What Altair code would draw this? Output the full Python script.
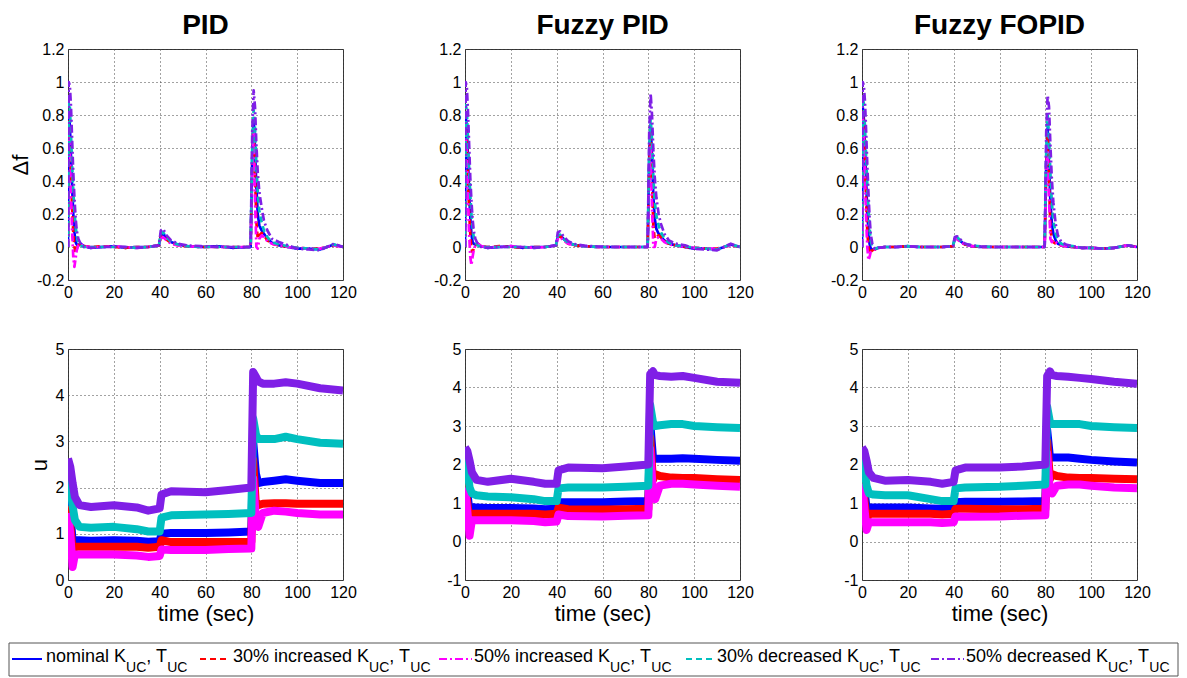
import altair as alt
import pandas as pd

FONT = "Liberation Sans"

CONTROLLERS = ["PID", "Fuzzy PID", "Fuzzy FOPID"]
SERIES = ["nominal", "30% increased", "50% increased", "30% decreased", "50% decreased"]
COLORS = ["#0000FF", "#FF0000", "#FF00FF", "#00BFBF", "#7F1FE6"]
DASHES = [[1, 0], [6, 4], [8, 3, 2, 3], [6, 4], [8, 3, 2, 3]]

X_TICKS = [0, 20, 40, 60, 80, 100, 120]
DF_TICKS = [-0.2, 0, 0.2, 0.4, 0.6, 0.8, 1.0, 1.2]
U_TICKS_PID = [0, 1, 2, 3, 4, 5]
U_TICKS_FUZZY = [-1, 0, 1, 2, 3, 4, 5]

# ---- delta f : time grid (start spike | quiet | bump at 40 | spike at 80 | tail)
T_DF = [0, 0.3, 0.8, 1.3, 1.8, 2.3, 2.8, 3.3, 3.8, 4.5, 5.5, 7,
        10, 15, 20, 25, 30, 35,
        39.7, 40.5, 41.5, 43, 45, 48, 52, 58, 65, 72,
        79.7, 80.4, 81, 81.6, 82.2, 82.8, 83.5, 84.5, 85.5, 87, 89, 92,
        96, 100, 105, 110, 116, 120]

DF_PID = {
    "nominal": [0, 0.80, 0.74, 0.55, 0.36, 0.20, 0.09, 0.03, 0.015, 0.01, 0.02, 0.005,
                -0.005, 0.0, 0.005, -0.005, 0.0, 0.0,
                0.01, 0.07, 0.08, 0.055, 0.03, 0.015, 0.005, 0.0, 0.005, -0.005,
                0.0, 0.55, 0.78, 0.6, 0.36, 0.2, 0.13, 0.1, 0.08, 0.05, 0.025, 0.01,
                0.0, -0.01, -0.01, -0.015, 0.015, 0.0],
    "30% increased": [0, 0.76, 0.66, 0.44, 0.24, 0.09, 0.0, -0.03, -0.01, 0.01, 0.02, 0.005,
                      0.0, 0.005, 0.0, -0.005, 0.0, 0.0,
                      0.01, 0.06, 0.07, 0.045, 0.025, 0.01, 0.005, 0.0, 0.0, 0.0,
                      0.0, 0.5, 0.72, 0.45, 0.15, 0.05, 0.07, 0.085, 0.07, 0.04, 0.02, 0.01,
                      0.0, -0.005, -0.01, -0.01, 0.01, 0.0],
    "50% increased": [0, 0.72, 0.58, 0.33, 0.1, -0.06, -0.12, -0.07, -0.02, 0.01, 0.02, 0.005,
                      0.0, 0.0, 0.005, 0.0, -0.005, 0.0,
                      0.01, 0.05, 0.06, 0.04, 0.02, 0.01, 0.005, 0.0, 0.0, 0.0,
                      0.0, 0.45, 0.7, 0.3, 0.0, -0.01, 0.05, 0.07, 0.06, 0.035, 0.02, 0.01,
                      0.0, -0.005, -0.01, -0.01, 0.01, 0.0],
    "30% decreased": [0, 0.88, 0.85, 0.68, 0.5, 0.34, 0.22, 0.13, 0.07, 0.03, 0.01, 0.0,
                      0.0, 0.0, 0.0, 0.0, -0.005, 0.0,
                      0.01, 0.08, 0.09, 0.06, 0.03, 0.015, 0.005, 0.0, 0.0, 0.0,
                      0.0, 0.6, 0.83, 0.72, 0.5, 0.33, 0.22, 0.15, 0.1, 0.06, 0.03, 0.015,
                      0.005, -0.005, -0.01, -0.015, 0.015, 0.0],
    "50% decreased": [0, 1.0, 0.98, 0.85, 0.65, 0.45, 0.3, 0.18, 0.1, 0.05, 0.02, 0.0,
                      -0.005, 0.0, 0.0, 0.0, -0.005, 0.0,
                      0.01, 0.1, 0.11, 0.07, 0.04, 0.02, 0.01, 0.005, 0.0, 0.0,
                      0.0, 0.7, 0.95, 0.85, 0.62, 0.45, 0.33, 0.24, 0.16, 0.1, 0.05, 0.03,
                      0.01, -0.01, -0.015, -0.02, 0.02, 0.0],
}

DF_FUZZY_PID = {
    "nominal": [0, 0.8, 0.72, 0.52, 0.33, 0.18, 0.08, 0.03, 0.02, 0.015, 0.02, 0.005,
                -0.005, 0.0, 0.005, -0.005, 0.0, 0.0,
                0.01, 0.065, 0.07, 0.05, 0.025, 0.012, 0.005, 0.0, 0.0, 0.0,
                0.0, 0.55, 0.74, 0.55, 0.3, 0.17, 0.11, 0.08, 0.06, 0.04, 0.02, 0.01,
                0.0, -0.01, -0.01, -0.015, 0.015, 0.0],
    "30% increased": [0, 0.75, 0.64, 0.42, 0.22, 0.08, -0.01, -0.03, -0.01, 0.01, 0.02, 0.005,
                      0.0, 0.005, 0.0, -0.005, 0.0, 0.0,
                      0.01, 0.06, 0.065, 0.045, 0.02, 0.01, 0.005, 0.0, 0.0, 0.0,
                      0.0, 0.5, 0.7, 0.4, 0.12, 0.05, 0.06, 0.07, 0.06, 0.035, 0.02, 0.01,
                      0.0, -0.005, -0.01, -0.01, 0.01, 0.0],
    "50% increased": [0, 0.7, 0.55, 0.3, 0.08, -0.06, -0.11, -0.06, -0.02, 0.01, 0.02, 0.005,
                      0.0, 0.0, 0.005, 0.0, -0.005, 0.0,
                      0.01, 0.05, 0.06, 0.04, 0.02, 0.01, 0.005, 0.0, 0.0, 0.0,
                      0.0, 0.45, 0.62, 0.25, 0.0, 0.0, 0.05, 0.06, 0.05, 0.03, 0.015, 0.01,
                      0.0, -0.005, -0.01, -0.01, 0.01, 0.0],
    "30% decreased": [0, 0.86, 0.83, 0.65, 0.47, 0.32, 0.2, 0.12, 0.06, 0.03, 0.01, 0.0,
                      0.0, 0.0, 0.0, 0.0, -0.005, 0.0,
                      0.01, 0.07, 0.075, 0.05, 0.025, 0.012, 0.005, 0.0, 0.0, 0.0,
                      0.0, 0.58, 0.78, 0.65, 0.42, 0.28, 0.19, 0.13, 0.09, 0.05, 0.025, 0.01,
                      0.005, -0.005, -0.01, -0.015, 0.015, 0.0],
    "50% decreased": [0, 1.0, 0.97, 0.82, 0.62, 0.42, 0.28, 0.17, 0.1, 0.05, 0.02, 0.0,
                      -0.005, 0.0, 0.0, 0.0, -0.005, 0.0,
                      0.01, 0.09, 0.095, 0.065, 0.035, 0.018, 0.008, 0.003, 0.0, 0.0,
                      0.0, 0.7, 0.93, 0.8, 0.58, 0.42, 0.3, 0.2, 0.14, 0.08, 0.04, 0.02,
                      0.01, -0.01, -0.015, -0.02, 0.02, 0.0],
}

DF_FUZZY_FOPID = {
    "nominal": [0, 0.85, 0.78, 0.6, 0.4, 0.22, 0.1, 0.02, -0.01, -0.015, -0.015, -0.005,
                0.0, 0.0, 0.005, 0.0, 0.0, 0.0,
                0.005, 0.05, 0.055, 0.035, 0.015, 0.005, 0.0, 0.0, 0.0, 0.0,
                0.0, 0.5, 0.72, 0.5, 0.28, 0.15, 0.08, 0.04, 0.02, 0.01, 0.005, 0.0,
                -0.005, -0.005, -0.01, -0.005, 0.01, 0.0],
    "30% increased": [0, 0.82, 0.72, 0.5, 0.28, 0.1, 0.0, -0.04, -0.03, -0.02, -0.015, -0.005,
                      0.0, 0.0, 0.005, 0.0, 0.0, 0.0,
                      0.005, 0.05, 0.05, 0.03, 0.015, 0.005, 0.0, 0.0, 0.0, 0.0,
                      0.0, 0.48, 0.68, 0.4, 0.12, 0.04, 0.03, 0.02, 0.015, 0.01, 0.005, 0.0,
                      -0.005, -0.005, -0.01, -0.005, 0.01, 0.0],
    "50% increased": [0, 0.78, 0.65, 0.42, 0.18, 0.0, -0.08, -0.06, -0.03, -0.02, -0.015, -0.005,
                      0.0, 0.0, 0.005, 0.0, 0.0, 0.0,
                      0.005, 0.045, 0.05, 0.03, 0.015, 0.005, 0.0, 0.0, 0.0, 0.0,
                      0.0, 0.45, 0.62, 0.3, 0.05, 0.03, 0.04, 0.03, 0.02, 0.01, 0.005, 0.0,
                      -0.005, -0.005, -0.01, -0.005, 0.01, 0.0],
    "30% decreased": [0, 0.9, 0.87, 0.72, 0.55, 0.38, 0.24, 0.12, 0.04, 0.0, -0.01, -0.005,
                      0.0, 0.0, 0.005, 0.0, 0.0, 0.0,
                      0.005, 0.055, 0.06, 0.04, 0.02, 0.008, 0.003, 0.0, 0.0, 0.0,
                      0.0, 0.58, 0.8, 0.68, 0.45, 0.28, 0.16, 0.08, 0.04, 0.02, 0.01, 0.005,
                      -0.005, -0.005, -0.01, -0.005, 0.01, 0.0],
    "50% decreased": [0, 1.0, 0.98, 0.88, 0.7, 0.5, 0.33, 0.18, 0.08, 0.02, -0.01, -0.005,
                      0.0, 0.0, 0.005, 0.0, 0.0, 0.0,
                      0.005, 0.06, 0.065, 0.045, 0.02, 0.01, 0.003, 0.0, 0.0, 0.0,
                      0.0, 0.7, 0.92, 0.85, 0.62, 0.42, 0.27, 0.14, 0.07, 0.03, 0.015, 0.005,
                      -0.005, -0.005, -0.01, -0.005, 0.01, 0.0],
}

# ---- control signal u : time grid (start | early | after 40 | spike at 80 | late)
T_U = [0, 1, 2, 3, 5,
       10, 20, 30, 35, 40,
       40.8, 45, 60, 70, 80,
       80.8, 82, 83, 85,
       90, 95, 100, 110, 120]

U_PID = {
    "nominal": [2.0, 1.5, 0.85, 0.86, 0.86, 0.85, 0.86, 0.85, 0.83, 0.84,
                1.0, 1.02, 1.02, 1.03, 1.05, 3.0, 2.3, 2.1, 2.12, 2.15, 2.18, 2.15, 2.1, 2.1],
    "30% increased": [1.6, 1.2, 0.6, 0.72, 0.72, 0.72, 0.72, 0.72, 0.7, 0.72,
                      0.86, 0.82, 0.82, 0.82, 0.83, 2.6, 1.6, 1.62, 1.65, 1.66, 1.66, 1.65, 1.65, 1.65],
    "50% increased": [1.45, 1.0, 0.28, 0.55, 0.55, 0.55, 0.55, 0.53, 0.5, 0.52,
                      0.66, 0.65, 0.65, 0.67, 0.68, 2.2, 1.3, 1.15, 1.45, 1.5, 1.48, 1.45, 1.42, 1.42],
    "30% decreased": [2.2, 2.1, 1.6, 1.3, 1.15, 1.13, 1.15, 1.1, 1.05, 1.05,
                      1.35, 1.4, 1.42, 1.43, 1.45, 3.5, 3.15, 3.05, 3.05, 3.05, 3.1, 3.05, 2.97, 2.95],
    "50% decreased": [2.63, 2.45, 2.1, 1.8, 1.62, 1.58, 1.62, 1.57, 1.5, 1.55,
                      1.85, 1.92, 1.9, 1.95, 2.0, 4.5, 4.4, 4.3, 4.25, 4.25, 4.28, 4.25, 4.15, 4.1],
}

U_FUZZY_PID = {
    "nominal": [1.9, 1.3, 0.75, 0.9, 0.88, 0.87, 0.87, 0.86, 0.84, 0.85,
                1.02, 1.02, 1.02, 1.04, 1.05, 3.1, 2.2, 2.15, 2.15, 2.15, 2.16, 2.15, 2.12, 2.1],
    "30% increased": [1.6, 1.0, 0.45, 0.72, 0.72, 0.72, 0.72, 0.72, 0.7, 0.72,
                      0.88, 0.84, 0.83, 0.84, 0.85, 2.7, 1.6, 1.75, 1.7, 1.66, 1.65, 1.65, 1.62, 1.6],
    "50% increased": [1.4, 0.8, 0.15, 0.55, 0.55, 0.55, 0.55, 0.53, 0.5, 0.52,
                      0.7, 0.66, 0.65, 0.67, 0.68, 2.4, 1.3, 1.1, 1.45, 1.5, 1.5, 1.48, 1.45, 1.42],
    "30% decreased": [2.2, 1.9, 1.4, 1.25, 1.2, 1.17, 1.15, 1.1, 1.05, 1.05,
                      1.38, 1.4, 1.4, 1.42, 1.45, 3.55, 3.1, 3.0, 3.02, 3.05, 3.05, 3.0, 2.97, 2.95],
    "50% decreased": [2.45, 2.35, 2.1, 1.8, 1.6, 1.55, 1.63, 1.55, 1.5, 1.5,
                      1.85, 1.92, 1.9, 1.95, 2.0, 4.35, 4.42, 4.32, 4.3, 4.28, 4.3, 4.25, 4.15, 4.12],
}

U_FUZZY_FOPID = {
    "nominal": [2.0, 1.4, 0.85, 0.88, 0.88, 0.88, 0.88, 0.86, 0.85, 0.88,
                1.02, 1.03, 1.03, 1.04, 1.05, 2.9, 2.2, 2.18, 2.18, 2.18, 2.15, 2.12, 2.08, 2.05],
    "30% increased": [1.6, 1.1, 0.55, 0.72, 0.72, 0.72, 0.72, 0.72, 0.7, 0.72,
                      0.85, 0.85, 0.84, 0.84, 0.85, 2.6, 1.62, 1.75, 1.7, 1.66, 1.65, 1.65, 1.63, 1.62],
    "50% increased": [1.5, 0.9, 0.3, 0.5, 0.5, 0.5, 0.5, 0.5, 0.48, 0.5,
                      0.65, 0.64, 0.65, 0.67, 0.68, 2.3, 1.3, 1.25, 1.45, 1.48, 1.48, 1.45, 1.4, 1.38],
    "30% decreased": [2.3, 1.9, 1.45, 1.25, 1.22, 1.2, 1.2, 1.1, 1.05, 1.05,
                      1.38, 1.4, 1.42, 1.45, 1.48, 3.5, 3.1, 3.05, 3.05, 3.05, 3.05, 3.0, 2.97, 2.95],
    "50% decreased": [2.45, 2.35, 2.1, 1.8, 1.65, 1.58, 1.6, 1.55, 1.5, 1.55,
                      1.85, 1.92, 1.92, 1.95, 2.0, 4.3, 4.42, 4.32, 4.3, 4.28, 4.25, 4.22, 4.15, 4.1],
}

# ---- legend text
LEGEND_LABELS = ["nominal", "30% increased", "50% increased", "30% decreased", "50% decreased"]

# ---- layout (pixels, not data)
W, H = 275, 231
COL_SPACING = 122
ROW_SPACING = 69
LEGEND_BOX_X = (-59, 1110)
LEGEND_BOX_Y = (-6, 27)
LEGEND_PANEL_H = 27
LEG_LINE_Y = 10
LEG_MAIN_Y = 13
LEG_SUB_Y = 23
LEG_LINE_X0 = [-56, 132, 371, 618, 863]
LEG_LINE_X1 = [-26, 161, 404, 646, 896]
LEG_TEXT_X = [-22, 165, 406, 649, 898]
MAIN_FS, SUB_FS = 18, 14

ARIAL_W = {' ': 278, '%': 889, '0': 556, '3': 556, '5': 556, 'a': 556, 'c': 500, 'd': 556,
           'e': 556, 'i': 222, 'l': 222, 'm': 833, 'n': 556, 'o': 556, 'r': 333, 's': 500,
           'K': 667, 'T': 611, 'U': 722, 'C': 722, ',': 278}


def text_w(s, fs):
    return sum(ARIAL_W.get(ch, 556) for ch in s) * fs / 1000.0


LABEL_EXPR = "replace(format(datum.value, '~g'), '\u2212', '-')"


def panel(t, data, ydom, yticks, stroke_w, dashed, title=None, ytitle=None, xtitle=None):
    xaxis = alt.Axis(values=X_TICKS, title=xtitle, titlePadding=3)
    yaxis = alt.Axis(values=yticks, title=ytitle, titlePadding=4, labelExpr=LABEL_EXPR)
    layers = []
    for s, c, d in zip(SERIES, COLORS, DASHES):
        df = pd.DataFrame({"t": t, "v": data[s]})
        mk = dict(color=c, strokeWidth=stroke_w, clip=True, strokeJoin="round")
        if dashed:
            mk["strokeDash"] = d
        layers.append(
            alt.Chart(df).mark_line(**mk).encode(
                x=alt.X("t:Q", scale=alt.Scale(domain=[0, 120], nice=False, zero=False), axis=xaxis),
                y=alt.Y("v:Q", scale=alt.Scale(domain=ydom, nice=False, zero=False), axis=yaxis),
            )
        )
    ch = alt.layer(*layers).properties(width=W, height=H)
    if title:
        ch = ch.properties(title=alt.TitleParams(text=title, fontSize=28, fontWeight="bold",
                                                 font=FONT, color="black", offset=1, anchor="middle"))
    return ch


df_sets = [DF_PID, DF_FUZZY_PID, DF_FUZZY_FOPID]
u_sets = [U_PID, U_FUZZY_PID, U_FUZZY_FOPID]
u_ticks = [U_TICKS_PID, U_TICKS_FUZZY, U_TICKS_FUZZY]
u_doms = [[0, 5], [-1, 5], [-1, 5]]

top = []
bottom = []
for i, name in enumerate(CONTROLLERS):
    top.append(panel(T_DF, df_sets[i], [-0.2, 1.2], DF_TICKS, 2.7, True, title=name,
                     ytitle="\u0394f" if i == 0 else None))
    bottom.append(panel(T_U, u_sets[i], u_doms[i], u_ticks[i], 8, False,
                        ytitle="u" if i == 0 else None, xtitle="time (sec)"))

# ---- legend built from the series lists
line_rows = []
main_rows = []
sub_rows = []
for i, (s, lab) in enumerate(zip(SERIES, LEGEND_LABELS)):
    line_rows.append({"series": s, "x0": LEG_LINE_X0[i], "x1": LEG_LINE_X1[i]})
    x = LEG_TEXT_X[i]
    p1 = lab + " K"
    main_rows.append({"txt": p1, "x": x})
    x += text_w(p1, MAIN_FS)
    sub_rows.append({"txt": "UC", "x": x})
    x += text_w("UC", SUB_FS)
    main_rows.append({"txt": ", T", "x": x})
    x += text_w(", T", MAIN_FS)
    sub_rows.append({"txt": "UC", "x": x})

box = alt.Chart(pd.DataFrame({"k": [0]})).mark_rect(
    fill="white", stroke="#555555", strokeWidth=1
).encode(x=alt.value(LEGEND_BOX_X[0]), x2=alt.value(LEGEND_BOX_X[1]),
         y=alt.value(LEGEND_BOX_Y[0]), y2=alt.value(LEGEND_BOX_Y[1]))

leg_lines = alt.Chart(pd.DataFrame(line_rows)).mark_rule(strokeWidth=2).encode(
    x=alt.X("x0:Q", scale=None),
    x2="x1:Q",
    y=alt.value(LEG_LINE_Y),
    color=alt.Color("series:N", scale=alt.Scale(domain=SERIES, range=COLORS), legend=None),
    strokeDash=alt.StrokeDash("series:N", scale=alt.Scale(
        domain=SERIES, range=[[40, 1], [6, 4], [8, 3, 2, 3], [6, 4], [8, 3, 2, 3]]), legend=None),
)

leg_main = alt.Chart(pd.DataFrame(main_rows)).mark_text(
    align="left", baseline="alphabetic", fontSize=MAIN_FS, font=FONT, color="black"
).encode(x=alt.X("x:Q", scale=None), y=alt.value(LEG_MAIN_Y), text="txt:N")

leg_sub = alt.Chart(pd.DataFrame(sub_rows)).mark_text(
    align="left", baseline="alphabetic", fontSize=SUB_FS, font=FONT, color="black"
).encode(x=alt.X("x:Q", scale=None), y=alt.value(LEG_SUB_Y), text="txt:N")

legend = alt.layer(box, leg_lines, leg_main, leg_sub).properties(
    width=W, height=LEGEND_PANEL_H, view=alt.ViewBackground(strokeWidth=0)
)

chart = alt.concat(
    *top, *bottom, legend, columns=3,
    spacing={"row": ROW_SPACING, "column": COL_SPACING}, bounds="flush"
).properties(
    padding={"left": 0, "top": 3, "right": 0, "bottom": 0}
).configure_view(
    stroke="#333333", strokeWidth=1
).configure_axis(
    grid=True, gridDash=[1, 3], gridColor="#444444", gridOpacity=1, gridWidth=1,
    domain=False, ticks=False, labelFont=FONT, labelFontSize=16, labelColor="black",
    labelPadding=4, labelFlush=False, titleFont=FONT, titleFontWeight="normal",
    titleColor="black", titleFontSize=22
)

chart.save("out.html", embed_options={"renderer": "svg", "actions": False})
